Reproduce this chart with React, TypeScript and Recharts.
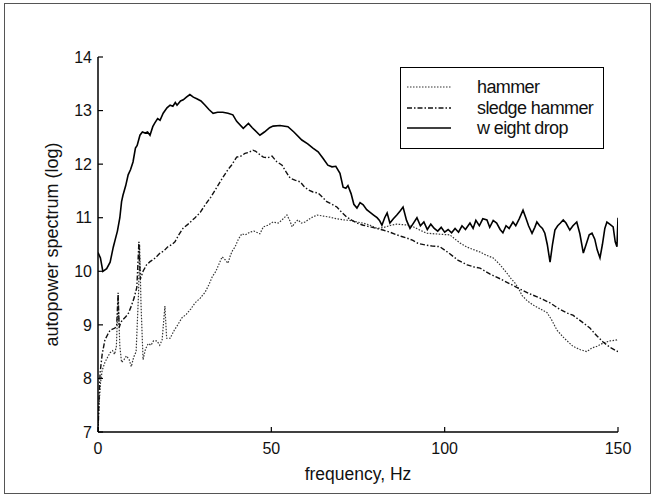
import React from 'react';
import { LineChart, Line, XAxis, YAxis, Legend } from 'recharts';

const xTicks = [0, 50, 100, 150];
const yTicks = [7, 8, 9, 10, 11, 12, 13, 14];
const seriesNames = ['hammer', 'sledge hammer', 'w eight drop'];
const xTitle = 'frequency, Hz';
const yTitle = 'autopower spectrum (log)';

// [frequency Hz, log autopower]
const hammerPoints: [number, number][] = [
  [0, 7.0], [0.3, 7.5], [0.7, 7.9], [1.2, 8.15], [2, 8.3], [2.8, 8.4], [3.5, 8.48], [4.2, 8.52],
  [4.8, 8.45], [5.3, 8.6], [5.8, 9.5], [6.3, 8.6], [6.8, 8.3], [7.5, 8.35], [8.2, 8.42], [9, 8.35],
  [9.6, 8.22], [10.3, 8.4], [11, 8.5], [11.7, 9.6], [12.0, 10.5], [12.4, 9.4], [13, 8.35], [13.7, 8.55],
  [14.5, 8.65], [15.3, 8.62], [16, 8.7], [17, 8.7], [17.8, 8.62], [18.5, 8.72], [19.3, 9.35], [19.8, 8.75],
  [20.8, 8.75], [22, 8.9], [23, 9.0], [24.2, 9.13], [25.5, 9.2], [26.8, 9.3], [28, 9.41], [29.5, 9.5],
  [30.9, 9.61], [32, 9.75], [32.9, 9.89], [34, 10.0], [35, 10.15], [35.8, 10.27], [36.6, 10.22], [37.5, 10.15],
  [38.2, 10.3], [38.9, 10.4], [39.5, 10.45], [40.5, 10.6], [41.5, 10.7], [42.5, 10.68], [43.8, 10.73], [45, 10.75],
  [46.7, 10.7], [47.7, 10.83], [49, 10.86], [50.5, 10.92], [52, 10.9], [53.1, 10.96], [54.5, 11.05], [55.3, 10.95],
  [56, 10.83], [57, 10.92], [57.7, 10.96], [58.7, 10.9], [59.7, 10.92], [61.5, 11.0], [63.2, 11.05], [65, 11.03],
  [66.9, 11.01], [68.8, 10.98], [70.7, 10.96], [72.7, 10.95], [74.7, 10.92], [76.5, 10.9], [78.5, 10.86], [80.5, 10.8],
  [82.5, 10.82], [84.5, 10.86], [86.2, 10.88], [88, 10.87], [90, 10.86], [92.5, 10.78], [94.8, 10.71], [97, 10.7],
  [99, 10.69], [101.5, 10.68], [103, 10.6], [104.4, 10.53], [106.5, 10.45], [108.5, 10.4], [110.2, 10.36], [112, 10.3],
  [114, 10.25], [116, 10.12], [117.9, 9.97], [119.2, 9.86], [120.3, 9.78], [121.3, 9.68], [122.3, 9.55], [123.8, 9.45],
  [125.5, 9.37], [127.5, 9.3], [129.5, 9.23], [130.8, 9.1], [132.4, 8.9], [134.5, 8.75], [137, 8.6], [139, 8.54],
  [141, 8.5], [142.5, 8.57], [144, 8.6], [145.7, 8.66], [147.7, 8.7], [149.7, 8.72], [150, 8.73],
];

const sledgePoints: [number, number][] = [
  [0, 7.0], [0.3, 7.6], [0.6, 8.1], [1.2, 8.45], [2, 8.72], [2.8, 8.82], [3.5, 8.9], [4.2, 8.92],
  [4.9, 8.94], [5.4, 9.0], [5.8, 9.6], [6.1, 8.95], [6.6, 9.05], [7.2, 9.1], [8, 9.15], [8.8, 9.22],
  [9.6, 9.35], [10.4, 9.5], [11.2, 9.7], [11.8, 10.55], [12.2, 9.85], [13, 10.0], [14, 10.12], [15, 10.18],
  [16, 10.22], [17, 10.28], [17.9, 10.34], [19, 10.38], [20, 10.45], [21.3, 10.5], [22.2, 10.55], [23.3, 10.68],
  [24.5, 10.8], [26, 10.88], [28, 11.0], [29.5, 11.1], [30.9, 11.24], [32.5, 11.38], [34.3, 11.57], [36, 11.75],
  [37.5, 11.9], [38.5, 11.98], [40, 12.13], [41.2, 12.15], [42.4, 12.2], [43.5, 12.22], [44.7, 12.26], [45.5, 12.24],
  [46.2, 12.2], [47.7, 12.13], [49, 12.12], [50.2, 12.15], [51.5, 12.05], [53.1, 11.98], [54.3, 11.85], [55.4, 11.74],
  [56.8, 11.7], [58.3, 11.67], [59.5, 11.58], [60.6, 11.52], [62, 11.48], [63.5, 11.46], [64.8, 11.38], [66, 11.3],
  [67.5, 11.25], [68.9, 11.2], [70.3, 11.1], [71.8, 11.01], [73.3, 10.95], [74.7, 10.9], [76.5, 10.86], [78.5, 10.83],
  [80.3, 10.8], [82.2, 10.77], [84.2, 10.73], [86.2, 10.68], [87.6, 10.65], [89.1, 10.62], [90.7, 10.58], [92.3, 10.52],
  [94.5, 10.49], [96.5, 10.47], [98.6, 10.46], [101, 10.35], [103.8, 10.21], [106.5, 10.12], [108.5, 10.08], [110.2, 10.06],
  [113, 9.95], [116, 9.86], [119, 9.76], [121.7, 9.67], [124.5, 9.58], [127.5, 9.5], [130.4, 9.41], [133, 9.3],
  [135.3, 9.22], [137, 9.18], [139.5, 9.06], [141.9, 8.94], [143.8, 8.8], [145.7, 8.68], [147.7, 8.58], [149.7, 8.51],
  [150, 8.5],
];

const weightDropPoints: [number, number][] = [
  [0, 10.35], [0.7, 10.25], [1.4, 10.0], [2.5, 10.05], [3.5, 10.17], [4.4, 10.45], [5, 10.6], [5.6, 10.75],
  [6.3, 11.0], [6.8, 11.3], [7.2, 11.42], [8, 11.6], [8.7, 11.8], [9.4, 11.9], [10.1, 12.04], [10.8, 12.3],
  [11.3, 12.35], [12.1, 12.54], [12.8, 12.6], [13.6, 12.58], [14.3, 12.6], [15, 12.54], [15.8, 12.7], [16.4, 12.77],
  [17.2, 12.85], [17.9, 12.82], [18.8, 12.95], [19.9, 13.05], [20.8, 13.1], [21.6, 13.08], [22.3, 13.15], [22.8, 13.1],
  [23.8, 13.18], [24.6, 13.2], [25.5, 13.25], [26.5, 13.3], [27.5, 13.25], [28.5, 13.22], [29.7, 13.18], [30.9, 13.1],
  [32, 13.02], [33.2, 12.95], [34.5, 12.97], [36, 12.97], [37.5, 12.95], [38.9, 12.92], [40, 12.8], [41.9, 12.67],
  [43.4, 12.76], [44.5, 12.68], [46.7, 12.54], [48, 12.6], [49.5, 12.68], [50.5, 12.71], [52.5, 12.72], [54.8, 12.7],
  [56.5, 12.6], [58.8, 12.45], [60.5, 12.38], [62, 12.3], [63.5, 12.23], [65, 12.1], [66.3, 11.98], [67.5, 11.95],
  [68.6, 11.96], [69.8, 11.83], [70.7, 11.57], [71.5, 11.55], [72.1, 11.6], [73, 11.45], [73.8, 11.25], [74.7, 11.18],
  [75.6, 11.28], [76.5, 11.24], [77.5, 11.15], [78.5, 11.1], [79.5, 11.05], [80.5, 11.0], [81.2, 10.95], [81.9, 10.86],
  [82.7, 11.0], [83.4, 11.09], [84.2, 10.9], [85.2, 10.98], [86.2, 11.05], [87.1, 11.12], [88, 11.2], [89, 10.95],
  [90, 10.8], [91, 10.9], [92, 11.0], [93, 10.85], [94, 10.92], [95, 10.78], [96, 10.88], [97, 10.8],
  [98, 10.75], [99, 10.82], [100, 10.73], [101, 10.78], [102, 10.72], [103, 10.8], [104, 10.73], [105, 10.85],
  [106, 10.78], [107.3, 10.9], [108.2, 10.8], [109, 10.95], [110, 10.85], [111, 10.98], [112.2, 10.96], [113, 10.82],
  [114, 10.95], [115, 10.9], [116, 10.78], [116.8, 10.72], [117.7, 10.85], [118.6, 10.8], [119.7, 10.92], [120.5, 10.85],
  [121.5, 10.98], [122.6, 11.14], [123.4, 11.0], [124.2, 10.85], [125.2, 10.71], [126, 10.82], [126.6, 10.92], [127.4, 10.85],
  [128.2, 10.8], [128.9, 10.71], [129.6, 10.5], [130.4, 10.17], [131.1, 10.5], [131.8, 10.77], [132.6, 10.85], [133.4, 10.9],
  [134.2, 10.96], [135, 10.9], [136.1, 10.77], [137, 10.85], [138.1, 10.92], [139, 10.7], [140, 10.34], [140.8, 10.5],
  [141.7, 10.68], [142.5, 10.71], [143.3, 10.6], [144, 10.4], [144.8, 10.25], [145.5, 10.5], [146.2, 10.8], [146.8, 10.92],
  [147.6, 10.88], [148.6, 10.83], [149.2, 10.55], [149.7, 10.46], [150, 11.0],
];

const toRows = (pts: [number, number][]) => pts.map(([f, v]) => ({ f, v }));
const hammerData = toRows(hammerPoints);
const sledgeData = toRows(sledgePoints);
const weightData = toRows(weightDropPoints);

const FONT = "'Liberation Sans', Arial, Helvetica, sans-serif";

const lineStyles = [
  { stroke: '#333', width: 1.2, dash: '1.5 1.5' },
  { stroke: '#111', width: 1.4, dash: '5 2 1.5 2' },
  { stroke: '#000', width: 1.6, dash: undefined as string | undefined },
];

const LegendBox = () => (
  <div
    style={{
      position: 'relative',
      width: 204,
      height: 82,
      boxSizing: 'border-box',
      border: '1.6px solid #000',
      background: '#fff',
      fontFamily: FONT,
    }}
  >
    {seriesNames.map((name, i) => {
      const centers = [19, 40, 60];
      const st = lineStyles[i];
      return (
        <div key={name} style={{ position: 'absolute', left: 0, top: centers[i] - 11, height: 22, width: 200 }}>
          <svg width={60} height={22} style={{ position: 'absolute', left: 0, top: 0 }}>
            <line x1={6} x2={50} y1={11} y2={11} stroke={st.stroke} strokeWidth={st.width} strokeDasharray={st.dash} />
          </svg>
          <span
            style={{
              position: 'absolute',
              left: 76,
              top: 0,
              lineHeight: '22px',
              fontSize: 18,
              letterSpacing: -0.6,
              color: '#111',
              whiteSpace: 'nowrap',
            }}
          >
            {name}
          </span>
        </div>
      );
    })}
  </div>
);

export default function App() {
  const tickStyle = { fontSize: 16, fill: '#111', fontFamily: FONT };
  return (
    <div style={{ position: 'absolute', left: 0, top: 0, width: 653, height: 497, background: '#fff' }}>
      <div
        style={{
          position: 'absolute',
          left: 4,
          top: 3,
          width: 647,
          height: 491,
          boxSizing: 'border-box',
          border: '1px solid #555',
        }}
      />
      <div style={{ position: 'absolute', left: 0, top: 0 }}>
        <LineChart width={653} height={497} margin={{ top: 57, right: 35, bottom: 15, left: 38 }}>
          <XAxis
            dataKey="f"
            type="number"
            domain={[0, 150]}
            ticks={xTicks}
            allowDataOverflow
            tickSize={-5}
            tickMargin={16}
            height={50}
            tick={tickStyle}
            stroke="#000"
            axisLine={{ stroke: '#000', strokeWidth: 1.5 }}
            tickLine={{ stroke: '#000', strokeWidth: 1.2 }}
            label={{ value: xTitle, position: 'insideBottom', offset: 2, style: { fontSize: 17.5, fill: '#111', fontFamily: FONT } }}
          />
          <XAxis
            xAxisId="top"
            orientation="top"
            dataKey="f"
            type="number"
            domain={[0, 150]}
            ticks={xTicks}
            allowDataOverflow
            tick={false}
            tickSize={-5}
            height={0}
            axisLine={{ stroke: '#000', strokeWidth: 1.5 }}
            tickLine={{ stroke: '#000', strokeWidth: 1.2 }}
          />
          <YAxis
            type="number"
            domain={[7, 14]}
            ticks={yTicks}
            allowDataOverflow
            tickSize={-5}
            tickMargin={11}
            width={60}
            tick={tickStyle}
            axisLine={{ stroke: '#000', strokeWidth: 1.5 }}
            tickLine={{ stroke: '#000', strokeWidth: 1.2 }}
            label={{
              value: yTitle,
              angle: -90,
              position: 'insideLeft',
              offset: 14,
              style: { textAnchor: 'middle', fontSize: 18, fill: '#111', fontFamily: FONT },
            }}
          />
          <YAxis
            yAxisId="right"
            orientation="right"
            type="number"
            domain={[7, 14]}
            ticks={yTicks}
            allowDataOverflow
            tick={false}
            tickSize={-5}
            width={0}
            axisLine={{ stroke: '#000', strokeWidth: 1.5 }}
            tickLine={{ stroke: '#000', strokeWidth: 1.2 }}
          />
          <Legend
            layout="vertical"
            align="center"
            verticalAlign="middle"
            content={() => <LegendBox />}
            wrapperStyle={{ position: 'absolute', left: 400, top: 67, width: 204, height: 82 }}
          />
          <Line
            data={hammerData}
            dataKey="v"
            name={seriesNames[0]}
            type="linear"
            dot={false}
            activeDot={false}
            stroke={lineStyles[0].stroke}
            strokeWidth={lineStyles[0].width}
            strokeDasharray={lineStyles[0].dash}
            isAnimationActive={false}
          />
          <Line
            data={sledgeData}
            dataKey="v"
            name={seriesNames[1]}
            type="linear"
            dot={false}
            activeDot={false}
            stroke={lineStyles[1].stroke}
            strokeWidth={lineStyles[1].width}
            strokeDasharray={lineStyles[1].dash}
            isAnimationActive={false}
          />
          <Line
            data={weightData}
            dataKey="v"
            name={seriesNames[2]}
            type="linear"
            dot={false}
            activeDot={false}
            stroke={lineStyles[2].stroke}
            strokeWidth={lineStyles[2].width}
            isAnimationActive={false}
          />
        </LineChart>
      </div>
    </div>
  );
}
